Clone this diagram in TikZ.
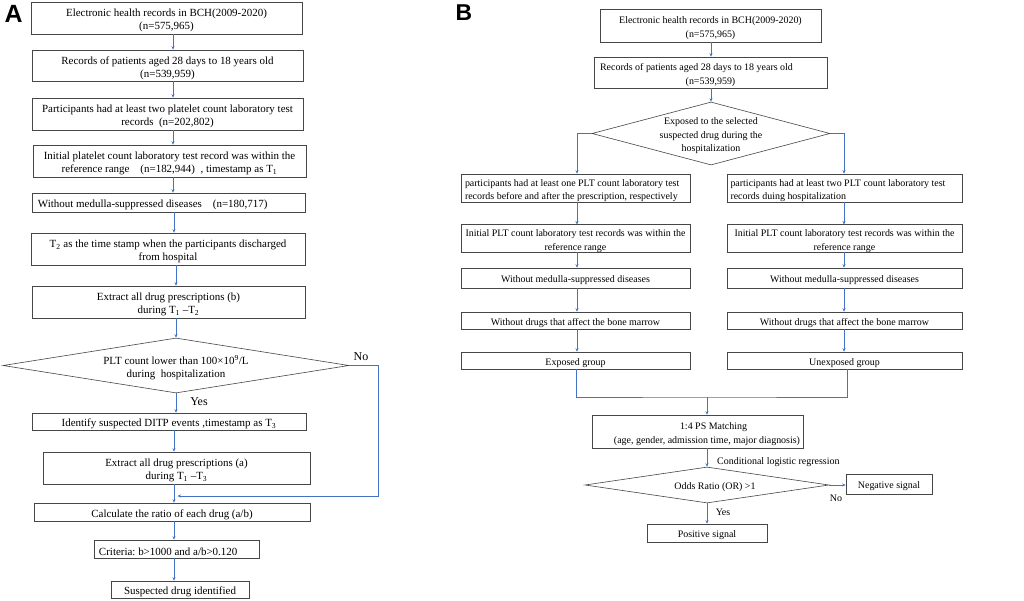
\documentclass[tikz,border=0pt]{standalone}
\usepackage{fontspec}
\setmainfont{Liberation Serif}
\newfontfamily\lblfont{Liberation Sans}
\usetikzlibrary{shapes.geometric,arrows.meta}
\definecolor{boxline}{RGB}{70,70,70}
\definecolor{arrblue}{RGB}{68,114,196}
\newcommand\fA{\fontsize{11}{13}\selectfont}
\newcommand\fB{\fontsize{10}{13.5}\selectfont}
\tikzset{
  box/.style={draw=boxline, line width=0.6bp, inner sep=0pt, align=flush center},
  boxA/.style={box, font=\fA, text height=12.5bp},
  boxB/.style={box, font=\fB, text height=11.8bp},
  dia/.style={diamond, draw=boxline, line width=0.6bp, inner sep=0pt, align=flush center},
  con/.style={draw=arrblue, line width=0.5bp},
  arr/.style={con, -{Stealth[length=3.5bp,width=3bp]}},
  panel/.style={font=\lblfont\bfseries\fontsize{25}{25}\selectfont, inner sep=0pt},
  lblA/.style={font=\fontsize{12}{12}\selectfont, inner sep=0pt},
  lblB/.style={font=\fB, inner sep=0pt},
}
\begin{document}
\frenchspacing
\begin{tikzpicture}[x=1bp,y=-1bp]
\path[fill=white] (0,0) rectangle (1024,601);
\useasboundingbox (0,0) rectangle (1024,601);

% ---------------- Panel A ----------------
\node[panel] (pA) at (13.5,14) {A};
\node[boxA, minimum width=271bp, minimum height=32bp, text width=265bp] (a1) at (166.5,18) {Electronic health records in BCH(2009-2020)\\(n=575,965)};
\node[boxA, minimum width=271bp, minimum height=31bp, text width=265bp] (a2) at (167.5,65.5) {Records of patients aged 28 days to 18 years old\\(n=539,959)};
\node[boxA, minimum width=271bp, minimum height=32bp, text width=267bp] (a3) at (167.5,114) {Participants had at least two platelet count laboratory test\\records\enspace(n=202,802)};
\node[boxA, minimum width=273bp, minimum height=32bp, text width=269bp] (a4) at (169.5,161) {Initial platelet count laboratory test record was within the\\reference range\quad(n=182,944)\enspace, timestamp as T\textsubscript{1}};
\node[boxA, minimum width=273bp, minimum height=19bp, align=flush left, text width=261bp] (a5) at (168.5,202.5) {Without medulla-suppressed diseases\quad(n=180,717)};
\node[boxA, minimum width=274bp, minimum height=32bp, text width=270bp] (a6) at (168,249) {T\textsubscript{2} as the time stamp when the participants discharged\\from hospital};
\node[boxA, minimum width=273bp, minimum height=32bp, text width=267bp] (a7) at (168.5,302) {Extract all drug prescriptions (b)\\during T\textsubscript{1} --T\textsubscript{2}};
\node[dia, font=\fA, text height=12.5bp, text width=160bp, inner xsep=-6bp, aspect=6.29, minimum width=346bp, minimum height=55bp] (ad) at (176,365.5) {PLT count lower than 100×10\textsuperscript{9}/L\\during\ \ hospitalization};
\node[boxA, minimum width=274bp, minimum height=17bp] (a8) at (169,421.5) {Identify suspected DITP events ,timestamp as T\textsubscript{3}};
\node[boxA, minimum width=267bp, minimum height=32bp, text width=261bp] (a9) at (176.5,468) {Extract all drug prescriptions (a)\\during T\textsubscript{1} --T\textsubscript{3}};
\node[boxA, minimum width=276bp, minimum height=18bp] (a10) at (172,512) {Calculate the ratio of each drug (a/b)};
\node[boxA, minimum width=165bp, minimum height=18bp, align=flush left, text width=155bp] (a11) at (176.5,549) {Criteria: b>1000 and a/b>0.120};
\node[boxA, minimum width=138bp, minimum height=17bp] (a12) at (180,589.5) {Suspected drug identified};

\node[lblA] (noA) at (361,357) {No};
\node[lblA] (yesA) at (199,402) {Yes};

\coordinate (ax1) at (173,0);
\coordinate (ax2) at (174,0);
\coordinate (ax3) at (176,0);
\draw[arr] (a1.south -| ax1) -- (a2.north -| ax1);
\draw[arr] (a2.south -| ax1) -- (a3.north -| ax1);
\draw[arr] (a3.south -| ax1) -- (a4.north -| ax1);
\draw[arr] (a4.south -| ax1) -- (a5.north -| ax1);
\draw[arr] (a5.south -| ax2) -- (a6.north -| ax2);
\draw[arr] (a6.south -| ax3) -- (a7.north -| ax3);
\draw[arr] (a7.south -| ax3) -- (ad.north);
\draw[arr] (ad.south) -- (a8.north -| ad.south);
\draw[arr] (a8.south -| ax2) -- (a9.north -| ax2);
\draw[arr] (a9.south -| ax2) -- (a10.north -| ax2);
\draw[arr] (a10.south -| ax2) -- (a11.north -| ax2);
\draw[arr] (a11.south -| ax2) -- (a12.north -| ax2);
\coordinate (nx) at (378,0);
\coordinate (nend) at (177.5,496);
\draw[arr] (ad.east) -| (nend -| nx) -- (nend);

% ---------------- Panel B ----------------
\node[panel, font=\lblfont\bfseries\fontsize{23}{23}\selectfont] (pB) at (464,13) {B};
\node[boxB, minimum width=221bp, minimum height=33bp, text width=215bp] (b1) at (710.5,25.5) {Electronic health records in BCH(2009-2020)\\(n=575,965)};
\node[boxB, minimum width=233bp, minimum height=31bp, text width=229bp] (b2) at (710.5,72.5) {Records of patients aged 28 days to 18 years old\hspace*{28bp}\mbox{}\\(n=539,959)};
\node[dia, font=\fB, text height=11.8bp, text width=112bp, aspect=3.78, inner xsep=-10bp, inner ysep=-8bp, minimum width=238bp, minimum height=63bp] (bd) at (711,133.5) {Exposed to the selected\\suspected drug during the\\hospitalization};

\node[boxB, minimum width=229bp, minimum height=28bp, align=flush left, text width=221bp] (l1) at (575.5,188) {participants had at least one PLT count laboratory test\\records before and after the prescription, respectively};
\node[boxB, minimum width=235bp, minimum height=28bp, align=flush left, text width=228bp] (r1) at (844.5,188) {participants had at least two PLT count laboratory test\\records duing hospitalization};
\node[boxB, minimum width=229bp, minimum height=27bp, text width=228bp] (l2) at (575.5,238.5) {Initial PLT count laboratory test records was within the\\reference range};
\node[boxB, minimum width=235bp, minimum height=27bp, text width=233bp] (r2) at (844.5,238.5) {Initial PLT count laboratory test records was within the\\reference range};
\node[boxB, minimum width=229bp, minimum height=20bp] (l3) at (575.5,278) {Without medulla-suppressed diseases};
\node[boxB, minimum width=235bp, minimum height=20bp] (r3) at (844.5,278) {Without medulla-suppressed diseases};
\node[boxB, minimum width=229bp, minimum height=17bp] (l4) at (575.5,320.5) {Without drugs that affect the bone marrow};
\node[boxB, minimum width=235bp, minimum height=17bp] (r4) at (844.5,320.5) {Without drugs that affect the bone marrow};
\node[boxB, minimum width=229bp, minimum height=17bp] (l5) at (575.5,360.5) {Exposed group};
\node[boxB, minimum width=235bp, minimum height=17bp] (r5) at (844.5,360.5) {Unexposed group};

\node[boxB, minimum width=211bp, minimum height=33bp, text width=210bp] (ps) at (697.5,431.5) {\hspace*{32bp}1:4 PS Matching\\\hspace*{19bp}(age, gender, admission time, major diagnosis)};
\node[dia, font=\fB, text height=11.8bp, aspect=6.78, minimum width=244bp, minimum height=36bp] (od) at (707,485) {\hspace*{16bp}Odds Ratio (OR) >1};
\node[boxB, minimum width=86bp, minimum height=20bp] (neg) at (889,484) {Negative signal};
\node[boxB, minimum width=120bp, minimum height=18bp] (pos) at (707,533) {Positive signal};

\node[lblB, anchor=west] (clr) at (717,462) {Conditional logistic regression};
\node[lblB] (noB) at (836,498) {No};
\node[lblB] (yesB) at (723,512) {Yes};

\coordinate (bx) at (711,0);
\coordinate (lx) at (577,0);
\coordinate (rx) at (844,0);
\draw[arr] (b1.south -| bx) -- (b2.north -| bx);
\draw[arr] (b2.south -| bx) -- (bd.north);
\draw[arr] (bd.west) -| (l1.north -| lx);
\draw[arr] (bd.east) -| (r1.north -| rx);
\draw[arr] (l1.south -| lx) -- (l2.north -| lx);
\draw[arr] (l2.south -| lx) -- (l3.north -| lx);
\draw[arr] (l3.south -| lx) -- (l4.north -| lx);
\draw[arr] (l4.south -| lx) -- (l5.north -| lx);
\draw[arr] (r1.south -| rx) -- (r2.north -| rx);
\draw[arr] (r2.south -| rx) -- (r3.north -| rx);
\draw[arr] (r3.south -| rx) -- (r4.north -| rx);
\draw[arr] (r4.south -| rx) -- (r5.north -| rx);
\coordinate (jn) at (707,397);
\coordinate (ljx) at (576,0);
\coordinate (rjx) at (847,0);
\draw[con] (l5.south -| ljx) |- (jn) -| (r5.south -| rjx);
\draw[arr] (jn) -- (ps.north -| jn);
\draw[arr] (ps.south -| jn) -- (od.north);
\draw[arr] (od.east) -- (neg.west |- od.east);
\draw[arr] (od.south) -- (pos.north);
\end{tikzpicture}
\end{document}
